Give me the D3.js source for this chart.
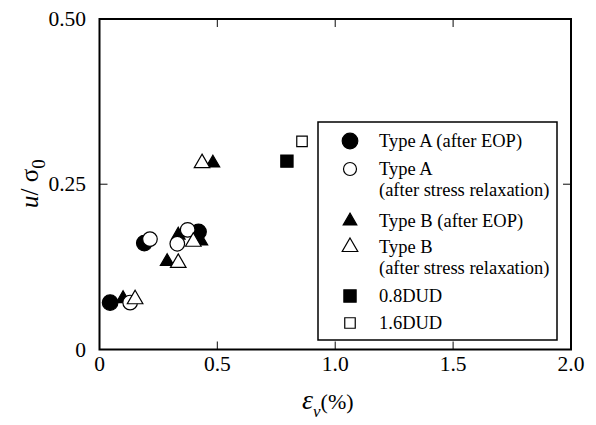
<!DOCTYPE html>
<html><head><meta charset="utf-8">
<script src="https://cdn.jsdelivr.net/npm/d3@7"></script>
</head><body style="margin:0">
<svg id="c" width="596" height="425"></svg>
<script>
// ---- data ----
const typeA_EOP_x = [0.045, 0.19, 0.42];
const typeA_EOP_y = [0.071, 0.161, 0.178];
const typeA_SR_x = [0.13, 0.214, 0.33, 0.374];
const typeA_SR_y = [0.071, 0.167, 0.160, 0.181];
const typeB_EOP_x = [0.10, 0.287, 0.334, 0.43, 0.481];
const typeB_EOP_y = [0.077, 0.133, 0.173, 0.164, 0.282];
const typeB_SR_x = [0.151, 0.334, 0.398, 0.435];
const typeB_SR_y = [0.076, 0.131, 0.163, 0.282];
const dud08_x = [0.795];
const dud08_y = [0.285];
const dud16_x = [0.859];
const dud16_y = [0.315];
const xTicks = [0, 0.5, 1.0, 1.5, 2.0];
const xTickLabels = ["0", "0.5", "1.0", "1.5", "2.0"];
const yTicks = [0, 0.25, 0.5];
const yTickLabels = ["0", "0.25", "0.50"];
const legendLabels = [["Type A (after EOP)"], ["Type A", "(after stress relaxation)"], ["Type B (after EOP)"], ["Type B", "(after stress relaxation)"], ["0.8DUD"], ["1.6DUD"]];

const svg = d3.select("#c");
const L = 99.5, R = 571, T = 19, B = 349.5;
const x = d3.scaleLinear().domain([0, 2]).range([L, R]);
const y = d3.scaleLinear().domain([0, 0.5]).range([B, T]);
const txt = (sel) => sel.append("text").style("font-family", '"Liberation Serif"').attr("fill", "#000");

// ticks (inward, all sides)
const tk = 8;
const g = svg.append("g");
xTicks.slice(1, -1).forEach(v => {
  g.append("line").attr("x1", x(v)).attr("x2", x(v)).attr("y1", B).attr("y2", B - tk).attr("stroke", "#333").attr("stroke-width", 1.2);
  g.append("line").attr("x1", x(v)).attr("x2", x(v)).attr("y1", T).attr("y2", T + tk).attr("stroke", "#333").attr("stroke-width", 1.2);
});
yTicks.slice(1, -1).forEach(v => {
  g.append("line").attr("y1", y(v)).attr("y2", y(v)).attr("x1", L).attr("x2", L + tk).attr("stroke", "#333").attr("stroke-width", 1.2);
  g.append("line").attr("y1", y(v)).attr("y2", y(v)).attr("x1", R).attr("x2", R - tk).attr("stroke", "#333").attr("stroke-width", 1.2);
});
// frame
svg.append("rect").attr("x", L).attr("y", T).attr("width", R - L).attr("height", B - T)
  .attr("fill", "none").attr("stroke", "#000").attr("stroke-width", 2);

// tick labels
xTicks.forEach((v, i) => txt(svg).attr("x", x(v)).attr("y", 371).attr("text-anchor", "middle")
  .attr("font-size", 21.5).text(xTickLabels[i]));
yTicks.forEach((v, i) => txt(svg).attr("x", 86).attr("y", y(v)).attr("dy", "0.33em").attr("text-anchor", "end")
  .attr("font-size", 21.5).text(yTickLabels[i]));

// axis titles
const xt = txt(svg).attr("x", 302).attr("y", 409).attr("font-size", 22);
xt.append("tspan").attr("font-style", "italic").attr("font-size", 28).text("ε");
xt.append("tspan").attr("font-style", "italic").attr("font-size", 17).attr("dy", 8).text("v");
xt.append("tspan").attr("dy", -8).text("(%)");

const yt = txt(svg).attr("transform", "translate(38,208) rotate(-90)").attr("font-size", 25);
yt.append("tspan").attr("font-style", "italic").text("u");
yt.append("tspan").text("/ σ");
yt.append("tspan").attr("font-size", 19).attr("dy", 7).text("0");

// markers
const sym = (type, size) => d3.symbol().type(type).size(size)();
const styles = {
  fc: {type: d3.symbolCircle, size: Math.PI * 7.8 * 7.8, fill: "#000", stroke: "#000"},
  oc: {type: d3.symbolCircle, size: Math.PI * 7.3 * 7.3, fill: "#fff", stroke: "#000"},
  ft: {type: d3.symbolTriangle, size: 80, fill: "#000", stroke: "#000"},
  ot: {type: d3.symbolTriangle, size: 105, fill: "#fff", stroke: "#000"},
  fs: {type: d3.symbolSquare, size: 150, fill: "#000", stroke: "#000"},
  os: {type: d3.symbolSquare, size: 110, fill: "#fff", stroke: "#000"}
};
function plot(xs, ys, st) {
  const s = styles[st];
  svg.append("g").selectAll("path").data(xs.map((v, i) => [v, ys[i]])).join("path")
    .attr("d", sym(s.type, s.size))
    .attr("transform", d => `translate(${x(d[0])},${y(d[1])})`)
    .attr("fill", s.fill).attr("stroke", s.stroke).attr("stroke-width", 1.2);
}
plot(typeA_EOP_x, typeA_EOP_y, "fc");
plot(typeB_EOP_x, typeB_EOP_y, "ft");
plot(typeA_SR_x, typeA_SR_y, "oc");
plot(typeB_SR_x, typeB_SR_y, "ot");
plot(dud08_x, dud08_y, "fs");
plot(dud16_x, dud16_y, "os");

// legend
svg.append("rect").attr("x", 318).attr("y", 122).attr("width", 239).attr("height", 218)
  .attr("fill", "#fff").attr("stroke", "#000").attr("stroke-width", 1.5);
const legendStyles = ["fc", "oc", "ft", "ot", "fs", "os"];
const rowY = [141, 169, 221, 247, 296, 323];
legendLabels.forEach((lines, i) => {
  const s = styles[legendStyles[i]];
  svg.append("path").attr("d", sym(s.type, legendStyles[i] === "oc" ? Math.PI * 6.5 * 6.5 : s.size))
    .attr("transform", `translate(350,${rowY[i]})`)
    .attr("fill", s.fill).attr("stroke", s.stroke).attr("stroke-width", 1.2);
  lines.forEach((t, j) => txt(svg).attr("x", 379).attr("y", rowY[i] + j * 21).attr("dy", "0.33em")
    .attr("font-size", 18.5).text(t));
});
</script>
</body></html>
